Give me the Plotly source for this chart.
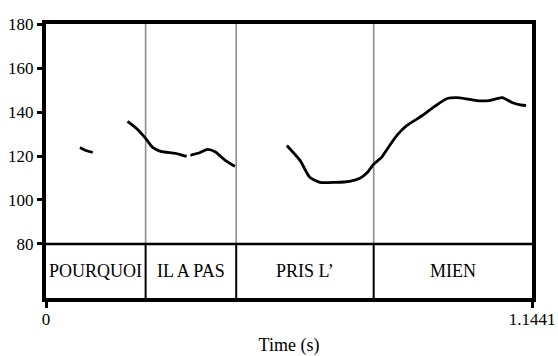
import plotly.graph_objects as go

# Pitch track (time in s, F0 in Hz); None marks voiceless gaps
time_s = [0.080, 0.094, 0.110, None,
          0.192, 0.213, 0.2345, 0.251, 0.270, 0.305, 0.331, None,
          0.340, 0.363, 0.380, 0.399, 0.422, 0.441, 0.445, None,
          0.567, 0.598, 0.621, 0.645, 0.680, 0.715, 0.739, 0.757, 0.771,
          0.790, 0.809, 0.828, 0.849, 0.886, 0.914, 0.943, 0.966, 0.989,
          1.013, 1.043, 1.074, 1.097, 1.114, 1.130]
pitch_hz = [123.9, 122.5, 121.6, None,
            135.7, 132.5, 128.0, 123.9, 122.1, 121.2, 119.8, None,
            120.3, 121.6, 123.0, 121.8, 118.0, 115.7, 115.3, None,
            124.8, 118.0, 110.3, 108.0, 108.0, 108.5, 109.9, 112.6, 116.2,
            119.4, 124.8, 129.8, 133.8, 138.4, 142.4, 146.0, 146.5, 146.0,
            145.2, 145.2, 146.5, 144.3, 143.3, 142.9]

# Word tier: interval boundaries and labels
boundaries = [0.0, 0.2345, 0.4478, 0.7714, 1.1441]
words = ["POURQUOI", "IL A PAS", "PRIS L\u2019", "MIEN"]

y_ticks = [80, 100, 120, 140, 160, 180]
x_ticks = [0.0, 1.1441]
x_tick_text = ["0", "1.1441"]

T_END = boundaries[-1]
F_MIN, F_MAX = 80, 180
TIER_BOTTOM = 55.45  # tier band drawn below the pitch range
TIER_MID = (F_MIN + TIER_BOTTOM) / 2

FONT = "Liberation Serif"

fig = go.Figure()
fig.add_trace(go.Scatter(
    x=time_s, y=pitch_hz, mode="lines",
    line=dict(color="black", width=2.8, shape="spline", smoothing=0.6),
    connectgaps=False, hoverinfo="skip", showlegend=False,
))

shapes = []
# separator between pitch area and tier
shapes.append(dict(type="line", xref="x", yref="y", x0=0, x1=T_END,
                   y0=F_MIN, y1=F_MIN, line=dict(color="black", width=2.5)))
for b in boundaries[1:-1]:
    # grey guide through the pitch area
    shapes.append(dict(type="line", xref="x", yref="y", x0=b, x1=b,
                       y0=F_MIN, y1=F_MAX, line=dict(color="#8c8c8c", width=1.6),
                       layer="below"))
    # solid boundary inside the tier
    shapes.append(dict(type="line", xref="x", yref="y", x0=b, x1=b,
                       y0=TIER_BOTTOM, y1=F_MIN, line=dict(color="black", width=2)))

annotations = []
for i, w in enumerate(words):
    annotations.append(dict(
        x=(boundaries[i] + boundaries[i + 1]) / 2, y=TIER_MID,
        xref="x", yref="y", text=w, showarrow=False,
        font=dict(family=FONT, size=18, color="black"),
    ))

fig.update_layout(
    width=558, height=356,
    margin=dict(l=46, r=26, t=24, b=58),
    paper_bgcolor="white", plot_bgcolor="white",
    shapes=shapes, annotations=annotations,
    font=dict(family=FONT, size=17, color="black"),
    xaxis=dict(
        range=[0, T_END], showgrid=False, zeroline=False, automargin=False,
        showline=True, linecolor="black", linewidth=4, mirror=True,
        tickvals=x_ticks, ticktext=x_tick_text,
        ticks="outside", ticklen=6, tickwidth=3, tickcolor="black",
        ticklabelstandoff=-3,
        title=dict(text="Time (s)", font=dict(family=FONT, size=18), standoff=13),
        tickfont=dict(family=FONT, size=17),
    ),
    yaxis=dict(
        range=[TIER_BOTTOM, F_MAX], showgrid=False, zeroline=False, automargin=False,
        showline=True, linecolor="black", linewidth=4, mirror=True,
        tickvals=y_ticks, ticks="outside", ticklen=5, tickwidth=3,
        tickcolor="black", tickfont=dict(family=FONT, size=17),
    ),
)

fig.write_html("out.html")
